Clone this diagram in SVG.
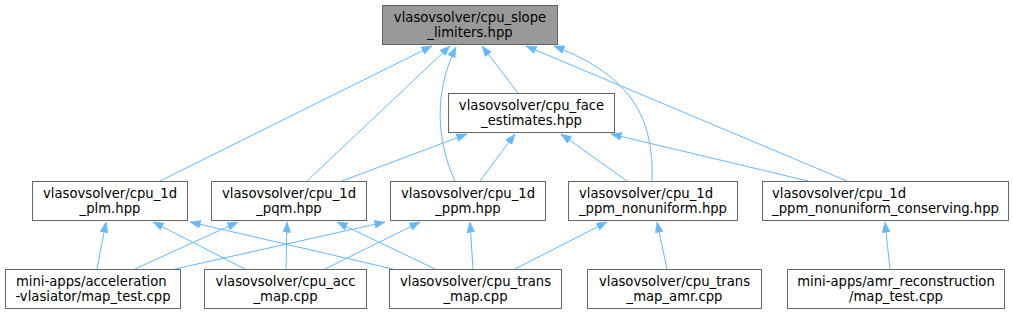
<svg xmlns="http://www.w3.org/2000/svg" width="1013" height="315" viewBox="0 0 1013 315">
<style>
rect{fill:#ffffff;stroke:#666666;stroke-width:1}
#n0 rect{fill:#999999}
text{font-family:"DejaVu Sans",sans-serif;font-size:13.2px;fill:#000000;text-anchor:middle}
text.l{text-anchor:start}
#edges path{fill:none;stroke:#63b8ff;stroke-width:1;marker-end:url(#ah)}
</style>
<defs>
<marker id="ah" markerUnits="userSpaceOnUse" markerWidth="11" markerHeight="9" refX="10.5" refY="4" orient="auto">
<path d="M0,0 L10.5,4 L0,8 z" fill="#63b8ff" stroke="#63b8ff" stroke-width="0.5"/>
</marker>
</defs>
<g id="edges">
<path d="M160,181 L432,46"/>
<path d="M307,181 L450,46"/>
<path d="M455,181 C436,140 434,92 456,47"/>
<path d="M518,93 L482,46"/>
<path d="M847,181 L526,46"/>
<path d="M652,181 C654,118 632,76 554,46"/>
<path d="M342,181 L467,134"/>
<path d="M480,181 L515,134"/>
<path d="M627,181 L561,134"/>
<path d="M808,181 L611,134"/>
<path d="M97,269 L106,222"/>
<path d="M245,269 L153,222"/>
<path d="M393,269 L190,222"/>
<path d="M135,269 L238,222"/>
<path d="M286,269 L287,222"/>
<path d="M435,269 L337,222"/>
<path d="M175,269 L385,222"/>
<path d="M325,269 L420,222"/>
<path d="M473,269 L470,222"/>
<path d="M515,269 L607,222"/>
<path d="M667,269 L657,222"/>
<path d="M890,269 L885,222"/>
</g>
<g id="n0"><rect x="382.5" y="5.5" width="175" height="39"/><text x="470" y="21.5">vlasovsolver/cpu_slope</text><text x="470" y="36.5">_limiters.hpp</text></g>
<g id="n1"><rect x="448.5" y="93.5" width="166" height="39"/><text x="531.5" y="109.5">vlasovsolver/cpu_face</text><text x="531.5" y="124.5">_estimates.hpp</text></g>
<g id="n2"><rect x="32.5" y="181.5" width="155" height="39"/><text x="110" y="197.5">vlasovsolver/cpu_1d</text><text x="110" y="212.5">_plm.hpp</text></g>
<g id="n3"><rect x="211.5" y="181.5" width="155" height="39"/><text x="289" y="197.5">vlasovsolver/cpu_1d</text><text x="289" y="212.5">_pqm.hpp</text></g>
<g id="n4"><rect x="390.5" y="181.5" width="155" height="39"/><text x="468" y="197.5">vlasovsolver/cpu_1d</text><text x="468" y="212.5">_ppm.hpp</text></g>
<g id="n5"><rect x="568.5" y="181.5" width="169" height="39"/><text class="l" x="579" y="197.5">vlasovsolver/cpu_1d</text><text x="653" y="212.5">_ppm_nonuniform.hpp</text></g>
<g id="n6"><rect x="762.5" y="181.5" width="246" height="39"/><text class="l" x="772" y="197.5">vlasovsolver/cpu_1d</text><text x="885.5" y="212.5">_ppm_nonuniform_conserving.hpp</text></g>
<g id="n7"><rect x="5.5" y="269.5" width="175" height="39"/><text class="l" x="16" y="285.5">mini-apps/acceleration</text><text x="93" y="300.5">-vlasiator/map_test.cpp</text></g>
<g id="n8"><rect x="204.5" y="269.5" width="162" height="39"/><text x="285.5" y="285.5">vlasovsolver/cpu_acc</text><text x="285.5" y="300.5">_map.cpp</text></g>
<g id="n9"><rect x="389.5" y="269.5" width="172" height="39"/><text x="475.5" y="285.5">vlasovsolver/cpu_trans</text><text x="475.5" y="300.5">_map.cpp</text></g>
<g id="n10"><rect x="587.5" y="269.5" width="174" height="39"/><text x="674.5" y="285.5">vlasovsolver/cpu_trans</text><text x="674.5" y="300.5">_map_amr.cpp</text></g>
<g id="n11"><rect x="787.5" y="269.5" width="217" height="39"/><text x="896" y="285.5">mini-apps/amr_reconstruction</text><text x="896" y="300.5">/map_test.cpp</text></g>
</svg>
